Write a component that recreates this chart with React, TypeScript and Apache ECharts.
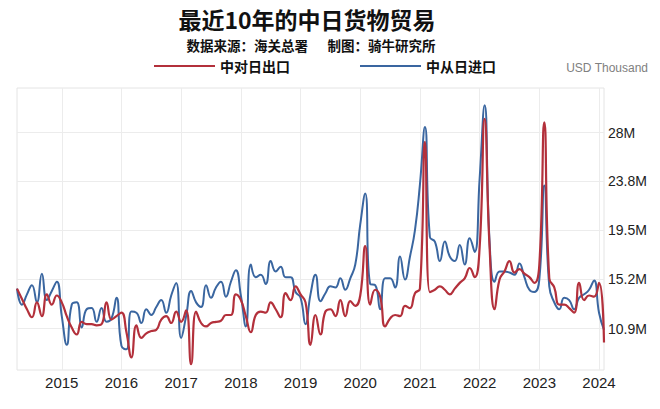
import React, { useEffect, useRef } from "react";
import * as echarts from "echarts";

// Monthly China–Japan goods trade, Apr 2014 – Feb 2024, in millions of USD thousand
const START_YEAR = 2014;
const START_MONTH = 4;

const EXPORTS_TO_JAPAN = [
  14.4, 13.5, 12.6, 11.9, 13.2, 12.0, 13.9, 13.0, 13.8, 13.2,
  12.0, 11.0, 10.4, 11.5, 11.3, 11.3, 11.2, 11.3, 13.2, 11.7,
  12.0, 12.3, 10.6, 8.4, 11.2, 10.1, 10.5, 10.7, 10.8, 11.7,
  12.0, 11.4, 12.4, 11.5, 12.5, 7.8, 12.4, 11.4, 11.1, 11.4,
  11.5, 11.6, 12.1, 12.1, 13.9, 13.4, 12.0, 10.6, 12.1, 12.4,
  12.3, 13.2, 12.6, 11.9, 14.0, 13.4, 14.6, 13.9, 13.2, 9.5,
  12.1, 10.4, 12.4, 12.6, 12.0, 13.4, 12.0, 13.3, 12.9, 13.8,
  18.1, 13.0, 14.3, 13.7, 11.1, 11.8, 12.1, 12.0, 12.9, 12.7,
  14.0, 14.4, 27.2, 14.1, 14.3, 14.6, 14.3, 13.9, 14.4, 14.9,
  15.3, 16.2, 15.4, 18.0, 29.2, 18.0, 12.6, 15.2, 15.9, 16.8,
  15.8, 16.1, 15.7, 15.4, 14.9, 16.5, 28.9, 15.3, 14.5, 13.0,
  13.0, 12.7, 12.3, 14.9, 13.4, 13.8, 13.7, 14.9, 9.7,
];

const IMPORTS_FROM_JAPAN = [
  14.4, 13.0, 13.9, 14.7, 13.2, 15.7, 13.4, 14.2, 15.0, 12.0,
  9.5, 13.0, 13.2, 11.0, 12.6, 12.7, 11.5, 12.7, 11.5, 11.8,
  13.6, 9.4, 9.1, 12.4, 12.3, 11.4, 12.6, 12.1, 12.8, 13.4,
  12.3, 13.8, 14.9, 10.1, 12.0, 14.2, 13.2, 12.8, 14.7, 13.6,
  14.5, 15.0, 13.7, 15.0, 16.0, 13.8, 11.1, 16.5, 15.4, 15.6,
  14.8, 16.8, 15.9, 16.3, 15.4, 15.4, 14.1, 13.6, 11.3, 13.9,
  15.6, 13.3, 14.0, 14.6, 14.5, 15.3, 14.3, 15.3, 16.5, 20.0,
  22.7, 14.8, 14.7, 12.6, 15.3, 15.3, 14.5, 17.2, 15.2, 17.2,
  19.5, 23.5, 28.5, 18.9, 18.5, 16.8, 18.5, 17.2, 16.8, 18.2,
  16.5, 18.8, 17.6, 24.0, 30.4, 18.5, 15.0, 15.9, 15.9, 15.8,
  15.6, 16.6, 15.4, 14.3, 14.1, 15.2, 23.4, 14.6, 13.2, 12.6,
  13.6, 13.4, 12.6, 13.6, 13.9, 14.3, 15.1, 12.3, 10.8,
];

const Y_TICKS = [10.9, 15.2, 19.5, 23.8, 28];

const SERIES_NAMES = ["中对日出口", "中从日进口"];
const TITLE = "最近10年的中日货物贸易";
const SUBTITLE = "数据来源：海关总署\u3000  制图：骑牛研究所";
const UNIT = "USD Thousand";

// month categories "YYYY-MM"
const MONTHS: string[] = EXPORTS_TO_JAPAN.map((_, i) => {
  const m0 = START_MONTH - 1 + i;
  const y = START_YEAR + Math.floor(m0 / 12);
  const m = (m0 % 12) + 1;
  return `${y}-${m < 10 ? "0" + m : m}`;
});

const CJK = '"Noto Sans CJK SC", "Noto Sans", sans-serif';
const LATIN = '"Liberation Sans", Arial, sans-serif';

const isJanuary = (_: number, value: string) => value.endsWith("-01");

export default function App() {
  const ref = useRef<HTMLDivElement>(null);

  useEffect(() => {
    if (!ref.current) return;
    const chart = echarts.init(ref.current, undefined, { renderer: "svg" });
    chart.setOption({
      animation: false,
      backgroundColor: "#ffffff",
      graphic: [
        {
          type: "text",
          x: 307,
          y: 19,
          style: {
            text: TITLE,
            fontFamily: CJK,
            fontSize: 23,
            fontWeight: "bold",
            fill: "#111111",
            textAlign: "center",
            textVerticalAlign: "middle",
          },
        },
        {
          type: "text",
          x: 311,
          y: 45,
          style: {
            text: SUBTITLE,
            fontFamily: CJK,
            fontSize: 13.5,
            fontWeight: "bold",
            fill: "#111111",
            textAlign: "center",
            textVerticalAlign: "middle",
          },
        },
        {
          type: "text",
          x: 648,
          y: 68,
          style: {
            text: UNIT,
            fontFamily: LATIN,
            fontSize: 12,
            fill: "#808080",
            textAlign: "right",
            textVerticalAlign: "middle",
          },
        },
      ],
      legend: {
        data: SERIES_NAMES,
        left: 154,
        top: 58,
        padding: 0,
        icon: "rect",
        itemWidth: 61,
        itemHeight: 2,
        itemGap: 70,
        textStyle: {
          fontFamily: CJK,
          fontSize: 14,
          fontWeight: "bold",
          color: "#111111",
          lineHeight: 16,
        },
      },
      grid: {
        left: 17,
        right: 56,
        top: 88,
        bottom: 39,
        show: true,
        borderColor: "#e4e4e4",
        borderWidth: 1,
        outerBoundsMode: "none",
      },
      xAxis: {
        type: "category",
        data: MONTHS,
        boundaryGap: false,
        axisLine: { show: false },
        axisTick: { show: false },
        axisLabel: {
          interval: isJanuary,
          formatter: (v: string) => v.slice(0, 4),
          fontFamily: LATIN,
          fontSize: 15,
          color: "#222222",
          margin: 5,
        },
        splitLine: {
          show: true,
          interval: isJanuary,
          lineStyle: { color: "#ececec", width: 1 },
        },
      },
      yAxis: {
        type: "value",
        position: "right",
        min: 7.3,
        max: 31.9,
        axisLine: { show: false },
        axisTick: { show: false, customValues: Y_TICKS },
        axisLabel: {
          customValues: Y_TICKS,
          formatter: (v: number) => `${v}M`,
          fontFamily: LATIN,
          fontSize: 14,
          color: "#222222",
          margin: 4,
        },
        splitLine: { show: true, lineStyle: { color: "#ececec", width: 1 } },
      },
      series: [
        {
          name: SERIES_NAMES[1],
          type: "line",
          data: IMPORTS_FROM_JAPAN,
          smooth: 0.5,
          showSymbol: false,
          symbol: "none",
          itemStyle: { color: "#3A66A0" },
          lineStyle: { color: "#3A66A0", width: 2 },
          z: 2,
        },
        {
          name: SERIES_NAMES[0],
          type: "line",
          data: EXPORTS_TO_JAPAN,
          smooth: 0.5,
          showSymbol: false,
          symbol: "none",
          itemStyle: { color: "#B3303B" },
          lineStyle: { color: "#B3303B", width: 2.2 },
          z: 3,
        },
      ],
    });
    return () => chart.dispose();
  }, []);

  return (
    <div
      ref={ref}
      style={{ position: "absolute", left: 0, top: 0, width: 660, height: 409 }}
    />
  );
}
